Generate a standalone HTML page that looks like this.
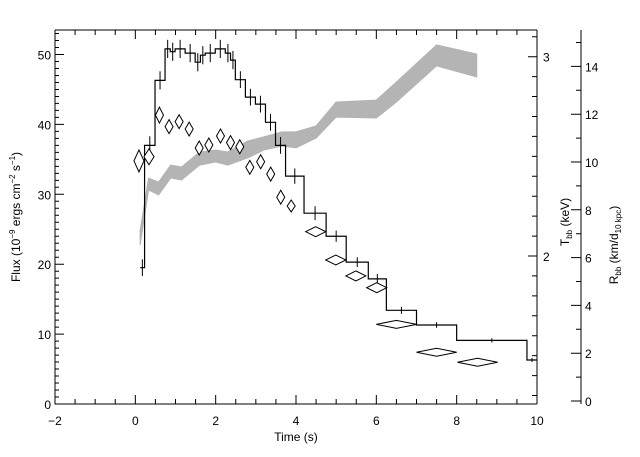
<!DOCTYPE html>
<html><head><meta charset="utf-8"><style>
html,body{margin:0;padding:0;background:#fff;}
svg{display:block;font-family:"Liberation Sans",sans-serif;}
</style></head><body>
<svg id="chart" width="640" height="457" viewBox="0 0 640 457" xmlns="http://www.w3.org/2000/svg">
<rect width="640" height="457" fill="#fff"/>
<g id="band"></g>
<g id="hist"></g>
<g id="diam"></g>
<g id="axes"></g>
<text x="296" y="441" font-size="12" text-anchor="middle">Time (s)</text>
<text transform="translate(20,217) rotate(-90)" font-size="12" text-anchor="middle">Flux (10<tspan font-size="8" dy="-5">−9</tspan><tspan dy="5"> ergs cm</tspan><tspan font-size="8" dy="-5">−2</tspan><tspan dy="5"> s</tspan><tspan font-size="8" dy="-5">−1</tspan><tspan dy="5">)</tspan></text>
<text transform="translate(569,222) rotate(-90)" font-size="12" text-anchor="middle">T<tspan font-size="8" dy="3">bb</tspan><tspan dy="-3"> (keV)</tspan></text>
<text transform="translate(618,245) rotate(-90)" font-size="12" text-anchor="middle">R<tspan font-size="8" dy="3">bb</tspan><tspan dy="-3"> (km/d</tspan><tspan font-size="8" dy="3">10 kpc</tspan><tspan dy="-3">)</tspan></text>
</svg>
<script>
// flux histogram
const binEdges=[0.12,0.23,0.49,0.74,0.87,0.99,1.24,1.49,1.62,1.74,1.99,2.24,2.37,2.49,2.74,2.99,3.24,3.49,3.74,4.2,4.75,5.25,5.8,6.25,7.0,8.0,9.75,10.0];
const fluxValues=[19.5,37,46.3,50.8,50.4,50.8,50.2,48.9,49.9,50.2,50.8,50.2,49.2,46.4,43.9,42.9,40.3,37,32.6,27.3,24.0,20.3,17.9,13.4,11.3,9.1,6.3];
const fluxErr=[1.2,1.3,1.3,1.3,1.3,1.3,1.3,1.3,1.3,1.3,1.3,1.3,1.3,1.2,1.2,1.2,1.2,1.2,1.1,1.0,0.8,0.7,0.7,0.5,0.4,0.3,0.3];
// temperature diamonds
const tempTimes=[0.09,0.34,0.6,0.84,1.09,1.34,1.59,1.83,2.12,2.37,2.6,2.85,3.12,3.37,3.62,3.88,4.49,4.99,5.49,6.01,6.5,7.5,8.52];
const tempValues=[2.477,2.498,2.707,2.649,2.674,2.637,2.542,2.557,2.602,2.569,2.548,2.445,2.473,2.411,2.295,2.251,2.122,1.98,1.9,1.841,1.657,1.517,1.467];
const tempTimeErr=[0.125,0.125,0.1,0.1,0.1,0.1,0.1,0.1,0.1,0.1,0.1,0.1,0.1,0.1,0.1,0.1,0.25,0.25,0.25,0.25,0.5,0.5,0.5];
const tempErr=[0.055,0.04,0.04,0.035,0.035,0.035,0.035,0.035,0.035,0.035,0.035,0.035,0.035,0.035,0.035,0.03,0.025,0.025,0.025,0.025,0.02,0.02,0.02];
// radius band
const radTimes=[0.12,0.33,0.58,0.88,1.15,1.6,2.0,2.3,2.8,3.2,3.65,4.0,4.5,5.0,6.0,6.5,7.5,8.5];
const radUpper=[7.15,9.33,9.16,9.87,9.79,10.42,10.5,10.42,10.88,11.05,11.26,11.26,11.51,12.51,12.59,13.35,14.9,14.52];
const radLower=[6.53,8.83,8.62,9.33,9.25,9.87,10.0,9.87,10.17,10.5,10.67,10.59,11.0,11.88,11.84,12.51,14.02,13.56];
const xTicks=[-2,0,2,4,6,8,10];
const yTicks=[0,10,20,30,40,50];
const tTicks=[2,3];
const rTicks=[0,2,4,6,8,10,12,14];

const L=55,R=537,T=30,B=404;
const X=t=>L+(t+2)*(R-L)/12;
const Y=f=>B-f*6.99;
const YT=k=>256-(k-2)*199.3;
const YR=r=>401-r*23.9;
const NS="http://www.w3.org/2000/svg";
function mk(tag,parent,attrs){const e=document.createElementNS(NS,tag);for(const k in attrs)e.setAttribute(k,attrs[k]);parent.appendChild(e);return e;}

// band
const band=document.getElementById('band');
let pts=radTimes.map((t,i)=>X(t)+','+YR(radUpper[i]));
pts=pts.concat(radTimes.map((t,i)=>X(t)+','+YR(radLower[i])).reverse());
const bp=mk('polygon',band,{points:pts.join(' '),fill:'#b4b4b4',stroke:'#b4b4b4','stroke-width':1});



// histogram
const hist=document.getElementById('hist');
let d='M'+X(binEdges[0])+','+Y(fluxValues[0]);
for(let i=0;i<fluxValues.length;i++){
  d+=' L'+X(binEdges[i+1])+','+Y(fluxValues[i]);
  if(i+1<fluxValues.length)d+=' L'+X(binEdges[i+1])+','+Y(fluxValues[i+1]);
}
const hp=mk('path',hist,{d:d,fill:'none',stroke:'#000','stroke-width':1.2});


fluxValues.forEach((f,i)=>{
  const c=X((binEdges[i]+binEdges[i+1])/2);
  const e=mk('line',hist,{x1:c,x2:c,y1:Y(f+fluxErr[i]),y2:Y(f-fluxErr[i]),stroke:'#000','stroke-width':1});
  
  
});

// diamonds
const diam=document.getElementById('diam');
tempTimes.forEach((t,i)=>{
  const cx=X(t),cy=YT(tempValues[i]);
  const hw=X(t+tempTimeErr[i])-cx, hh=YT(tempValues[i]-tempErr[i])-cy;
  const p=mk('polygon',diam,{points:`${cx-hw},${cy} ${cx},${cy-hh} ${cx+hw},${cy} ${cx},${cy+hh}`,fill:'#fff',stroke:'#000','stroke-width':1});
  
  
});

// axes
const ax=document.getElementById('axes');
const frame=mk('path',ax,{d:`M${L},${T} L${L},${B} L${R},${B} M${L},${T} L${R},${T}`,fill:'none',stroke:'#000','stroke-width':1});


const tax=mk('line',ax,{x1:R,x2:R,y1:T,y2:B,stroke:'#000','stroke-width':1});


const rax=mk('line',ax,{x1:581,x2:581,y1:T,y2:B,stroke:'#000','stroke-width':1});


let tk='';
for(let t=-2;t<=10.001;t+=0.5){const x=X(t),len=(Math.abs(t%2)<0.01)?9:5;tk+=`M${x},${B} L${x},${B-len} M${x},${T} L${x},${T+len} `;}
for(let f=0;f<=53;f++){const y=Y(f),len=(f%10===0)?9:4;tk+=`M${L},${y} L${L+len},${y} `;}
for(let k=1.3;k<=3.15;k+=0.1){const y=YT(k),big=Math.abs(k-2)<0.01||Math.abs(k-3)<0.01;tk+=`M${R},${y} L${R-(big?9:5)},${y} `;}
for(let r=0;r<=15;r++){const y=YR(r),len=(r%2===0)?10:5;tk+=`M581,${y} L${581-len},${y} `;}
const tp=mk('path',ax,{d:tk,stroke:'#000','stroke-width':1,fill:'none'});


xTicks.forEach(v=>{const e=mk('text',ax,{x:X(v),y:425,'font-size':12,'text-anchor':'middle'});e.textContent=v<0?'−'+(-v):v;

});
yTicks.forEach(v=>{const e=mk('text',ax,{x:L-4,y:Y(v)+5,'font-size':12,'text-anchor':'end'});e.textContent=v;

});
tTicks.forEach(v=>{const e=mk('text',ax,{x:R+6,y:YT(v)+5,'font-size':12});e.textContent=v;

});
rTicks.forEach(v=>{const e=mk('text',ax,{x:585,y:YR(v)+5,'font-size':12});e.textContent=v;

});
</script>
</body></html>
